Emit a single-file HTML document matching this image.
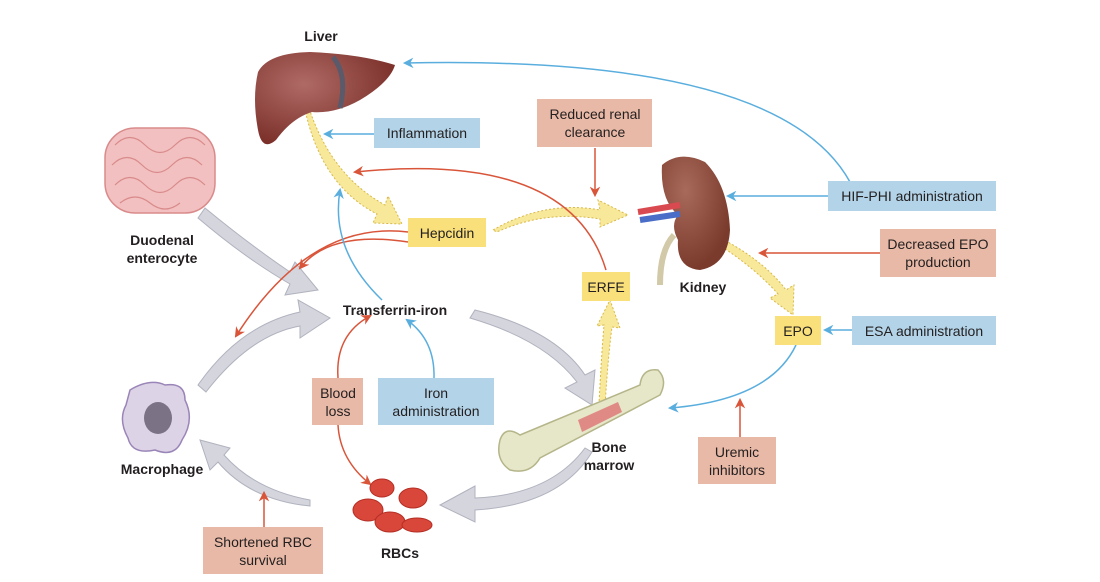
<!DOCTYPE html>
<html><head><meta charset="utf-8"><style>
html,body{margin:0;padding:0;background:#fff;}
svg{display:block;}
text{font-family:"Liberation Sans",sans-serif;font-size:14px;fill:#231f20;}
.b{font-weight:bold;}
</style></head><body>
<svg width="1100" height="582" viewBox="0 0 1100 582" xmlns="http://www.w3.org/2000/svg">
<defs>
<marker id="ar" viewBox="0 0 10 10" refX="8" refY="5" markerWidth="7" markerHeight="7" orient="auto"><path d="M0,0L10,5L0,10L3,5z" fill="#d9553a"/></marker>
<marker id="ab" viewBox="0 0 10 10" refX="8" refY="5" markerWidth="7" markerHeight="7" orient="auto"><path d="M0,0L10,5L0,10L3,5z" fill="#5aaede"/></marker>
<radialGradient id="lv" cx="0.35" cy="0.35" r="0.7"><stop offset="0" stop-color="#b06a66"/><stop offset="1" stop-color="#7a2f28"/></radialGradient>
<radialGradient id="kd" cx="0.35" cy="0.3" r="0.7"><stop offset="0" stop-color="#a86a5a"/><stop offset="1" stop-color="#7a3a2c"/></radialGradient>
</defs>

<g fill="#d4d5dd" stroke="#b0b2be" stroke-width="1">
<path d="M205,208 Q250,245 290,272 L295,262 L318,290 L285,295 L290,284 Q245,258 198,218z"/>
<path d="M198,385 Q240,325 300,312 L298,300 L330,318 L300,338 L300,326 Q250,335 206,392z"/>
<path d="M475,310 Q555,330 585,375 L595,370 L592,405 L565,388 L577,382 Q545,340 470,318z"/>
<path d="M585,448 Q550,495 475,498 L475,486 L440,505 L475,522 L475,510 Q560,505 592,452z"/>
<path d="M310,506 Q250,500 218,462 L210,470 L200,440 L230,448 L224,455 Q255,490 310,500z"/>
</g>

<g fill="#f8e89a" stroke="#d7b94a" stroke-width="1" stroke-dasharray="2,2">
<path d="M308,105 Q330,175 385,205 L388,196 L402,224 L373,223 L377,214 Q320,185 304,105z"/>
<path d="M493,230 Q545,200 600,210 L598,200 L628,215 L600,227 L600,219 Q545,210 497,232z"/>
<path d="M700,228 Q760,255 786,290 L794,285 L793,315 L770,298 L778,294 Q750,262 698,232z"/>
<path d="M598,425 Q601,360 604,325 L597,326 L610,300 L620,328 L612,327 Q607,365 604,425z"/>
</g>

<g fill="none" stroke="#d9553a" stroke-width="1.5">
<path d="M606,270 Q570,150 355,172" marker-end="url(#ar)"/>
<path d="M408,232 Q310,220 236,336" marker-end="url(#ar)"/>
<path d="M408,242 Q330,230 300,268" marker-end="url(#ar)"/>
<path d="M595,148 L595,195" marker-end="url(#ar)"/>
<path d="M880,253 L760,253" marker-end="url(#ar)"/>
<path d="M338,378 Q335,335 370,316" marker-end="url(#ar)"/>
<path d="M338,425 Q340,460 370,484" marker-end="url(#ar)"/>
<path d="M740,437 L740,400" marker-end="url(#ar)"/>
<path d="M264,527 L264,493" marker-end="url(#ar)"/>
</g>
<g fill="none" stroke="#5aaede" stroke-width="1.5">
<path d="M374,134 L325,134" marker-end="url(#ab)"/>
<path d="M382,300 Q330,250 340,190" marker-end="url(#ab)"/>
<path d="M434,378 Q435,340 407,320" marker-end="url(#ab)"/>
<path d="M850,182 Q780,55 405,63" marker-end="url(#ab)"/>
<path d="M828,196 L728,196" marker-end="url(#ab)"/>
<path d="M852,330 L825,330" marker-end="url(#ab)"/>
<path d="M796,345 Q770,400 670,408" marker-end="url(#ab)"/>
</g>

<path d="M258,72 Q268,53 310,52 Q360,54 395,65 Q390,82 360,100 Q335,114 312,112 Q292,118 276,140 Q262,152 258,130 Q252,98 258,72z" fill="url(#lv)"/>
<path d="M333,57 Q348,75 340,108" stroke="#5a5a6a" stroke-width="5" fill="none"/>
<rect x="105" y="128" width="110" height="85" rx="30" fill="#f2c0c0" stroke="#d98a8a" stroke-width="1.5"/>
<g fill="none" stroke="#d98a8a" stroke-width="1.2">
<path d="M115,145 q15,-15 30,0 t30,0 t30,0 M112,165 q15,-15 30,0 t30,0 t30,0 M115,185 q15,-15 30,0 t30,0 t30,0 M120,203 q15,-12 30,0 t30,0"/>
</g>
<path d="M662,165 Q680,150 705,162 Q728,185 730,230 Q728,265 700,270 Q676,268 678,240 Q670,225 678,215 Q660,200 662,165z" fill="url(#kd)"/>
<path d="M674,235 Q660,250 660,285" stroke="#d2c9a8" stroke-width="6" fill="none"/>
<path d="M638,212 L680,205" stroke="#d94a50" stroke-width="6"/>
<path d="M640,220 L680,214" stroke="#4a6ec8" stroke-width="6"/>
<path d="M130,390 Q150,378 165,385 Q185,382 185,400 Q195,420 182,440 Q175,458 155,450 Q132,455 128,438 Q118,420 126,405z" fill="#ddd3e6" stroke="#9a85b8" stroke-width="1.5"/>
<ellipse cx="158" cy="418" rx="14" ry="16" fill="#7b7385"/>
<path d="M500,440 Q505,425 520,435 L640,385 Q642,368 658,370 Q668,380 660,395 L540,458 Q530,475 510,470 Q495,460 500,440z" fill="#e6e6c8" stroke="#b5b58a" stroke-width="1.5"/>
<path d="M578,420 L618,402 L622,412 L582,432z" fill="#e08a86"/>
<g fill="#d9473a" stroke="#b52e24">
<ellipse cx="368" cy="510" rx="15" ry="11"/>
<ellipse cx="382" cy="488" rx="12" ry="9"/>
<ellipse cx="413" cy="498" rx="14" ry="10"/>
<ellipse cx="390" cy="522" rx="15" ry="10"/>
<ellipse cx="417" cy="525" rx="15" ry="7"/>
</g>

<g>
<rect x="374" y="118" width="106" height="30" fill="#b3d4e8"/>
<rect x="537" y="99" width="115" height="48" fill="#e8b9a6"/>
<rect x="408" y="218" width="78" height="29" fill="#f9e07a"/>
<rect x="582" y="272" width="48" height="29" fill="#f9e07a"/>
<rect x="828" y="181" width="168" height="30" fill="#b3d4e8"/>
<rect x="880" y="229" width="116" height="48" fill="#e8b9a6"/>
<rect x="775" y="316" width="46" height="29" fill="#f9e07a"/>
<rect x="852" y="316" width="144" height="29" fill="#b3d4e8"/>
<rect x="312" y="378" width="51" height="47" fill="#e8b9a6"/>
<rect x="378" y="378" width="116" height="47" fill="#b3d4e8"/>
<rect x="698" y="437" width="78" height="47" fill="#e8b9a6"/>
<rect x="203" y="527" width="120" height="47" fill="#e8b9a6"/>
</g>
<g text-anchor="middle">
<text x="427" y="138">Inflammation</text>
<text x="595" y="119">Reduced renal</text><text x="595" y="137">clearance</text>
<text x="447" y="238">Hepcidin</text>
<text x="606" y="292">ERFE</text>
<text x="912" y="201">HIF-PHI administration</text>
<text x="938" y="249">Decreased EPO</text><text x="938" y="267">production</text>
<text x="798" y="336">EPO</text>
<text x="924" y="336">ESA administration</text>
<text x="338" y="398">Blood</text><text x="338" y="416">loss</text>
<text x="436" y="398">Iron</text><text x="436" y="416">administration</text>
<text x="737" y="457">Uremic</text><text x="737" y="475">inhibitors</text>
<text x="263" y="547">Shortened RBC</text><text x="263" y="565">survival</text>
<text class="b" x="321" y="41">Liver</text>
<text class="b" x="162" y="245">Duodenal</text><text class="b" x="162" y="263">enterocyte</text>
<text class="b" x="395" y="315">Transferrin-iron</text>
<text class="b" x="703" y="292">Kidney</text>
<text class="b" x="162" y="474">Macrophage</text>
<text class="b" x="609" y="452">Bone</text><text class="b" x="609" y="470">marrow</text>
<text class="b" x="400" y="558">RBCs</text>
</g>
</svg>
</body></html>
